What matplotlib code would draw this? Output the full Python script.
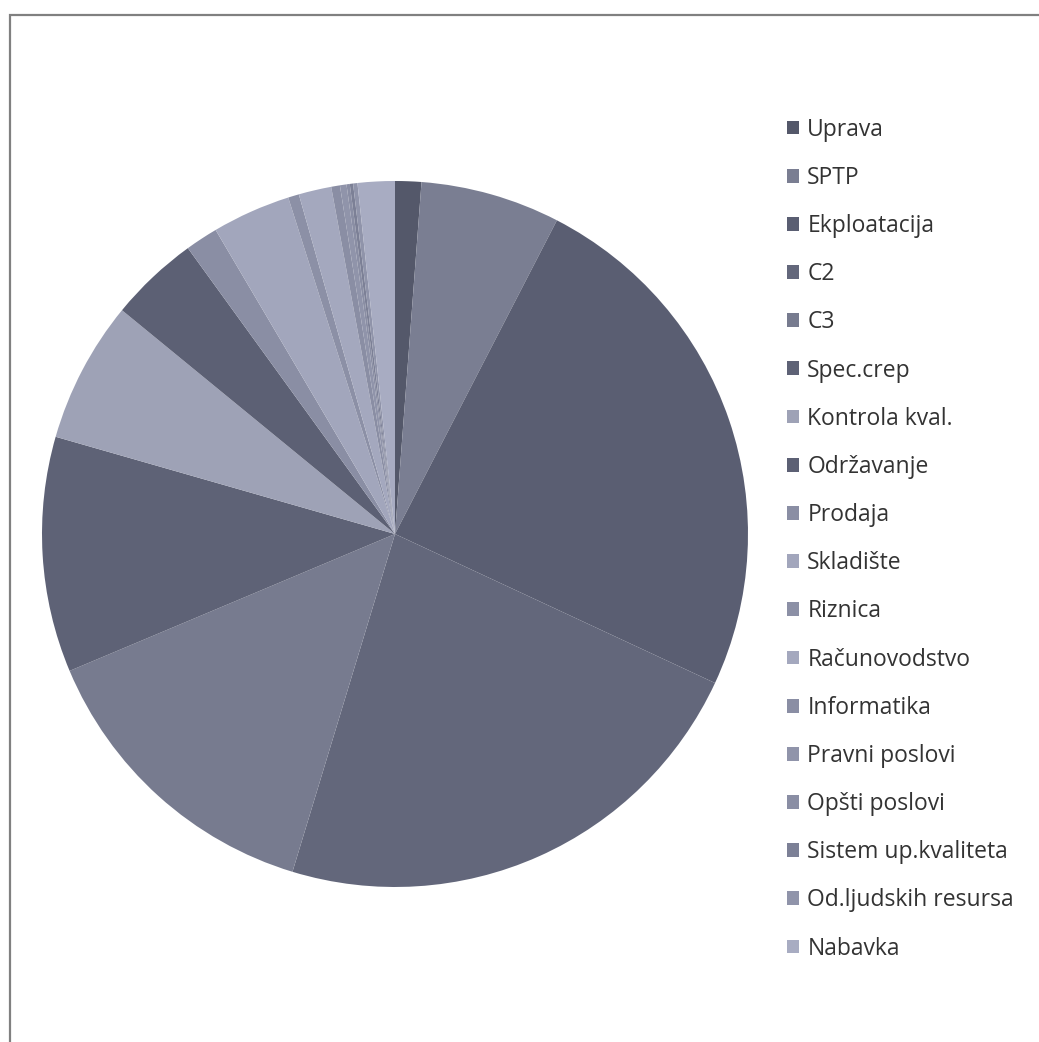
import matplotlib
matplotlib.use("Agg")
import matplotlib.pyplot as plt
from matplotlib.patches import Rectangle

labels = ["Uprava", "SPTP", "Ekploatacija", "C2", "C3", "Spec.crep",
          "Kontrola kval.", "Održavanje", "Prodaja", "Skladište", "Riznica",
          "Računovodstvo", "Informatika", "Pravni poslovi", "Opšti poslovi",
          "Sistem up.kvaliteta", "Od.ljudskih resursa", "Nabavka"]
values = [1.2, 6.4, 24.4, 22.8, 14.0, 10.8, 6.5, 4.1, 1.5, 3.6, 0.5,
          1.5, 0.4, 0.3, 0.15, 0.15, 0.2, 1.7]
colors = ["#54586a", "#7a7e92", "#5a5e72", "#63677b", "#777b8f", "#5e6276",
          "#9ea2b6", "#5c6074", "#8a8ea4", "#a2a6bc", "#8c90a6",
          "#a4a8be", "#8a8ea4", "#9094aa", "#8a8ea4", "#7c8096",
          "#9094aa", "#a8acc2"]

W, H = 1039, 1042
fig = plt.figure(figsize=(W / 100, H / 100), dpi=100)
fig.patch.set_facecolor("white")

cx, cy, r = 395, 534, 353
ax = fig.add_axes([(cx - r) / W, (H - cy - r) / H, 2 * r / W, 2 * r / H])
wedges, _ = ax.pie(values, colors=colors, startangle=90, counterclock=False,
                   radius=1.0, wedgeprops=dict(linewidth=0))
ax.set_xlim(-1, 1)
ax.set_ylim(-1, 1)
ax.set_aspect("equal")
ax.axis("off")

fig.legend(wedges, labels, loc="upper left",
           bbox_to_anchor=(766 / W, 1 - 97 / H),
           frameon=False, prop={"family": "Open Sans", "size": 16.5},
           handlelength=0.55, handleheight=0.55, handletextpad=0.35,
           labelspacing=1.055, labelcolor="#333333")

fig.add_artist(Rectangle((10 / W, -0.1), 1.2, (H - 15) / H + 0.1,
                         transform=fig.transFigure, fill=False,
                         edgecolor="#808080", linewidth=1.6))

fig.savefig("out.png", dpi=100, facecolor="white")
